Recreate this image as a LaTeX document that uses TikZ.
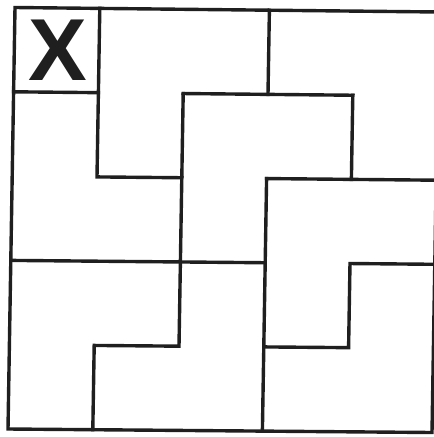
\documentclass[tikz,border=0pt]{standalone}
\usepackage{fontspec}
\setmainfont{Liberation Sans}
\usetikzlibrary{calc}
\begin{document}
\begin{tikzpicture}[x=1pt,y=-1pt,
  wall/.style={line width=3.4pt, line cap=rect, line join=miter, draw=black!88}]
\useasboundingbox (0,0) rectangle (434,437);
\coordinate (TL) at (15,7.5);
\coordinate (TR) at (439,12);
\coordinate (BL) at (8,429);
\coordinate (BR) at (432,432.5);
\foreach \i in {0,...,5}{\foreach \j in {0,...,5}{
  \pgfmathsetmacro\u{\i/5}\pgfmathsetmacro\v{\j/5}
  \coordinate (g\i\j) at ($($(TL)!\u!(TR)$)!\v!($(BL)!\u!(BR)$)$);
}}
\draw[wall] (g00) -- (g50) -- (g55) -- (g05) -- cycle;
\draw[wall] (g01) -- (g11);
\draw[wall] (g10) -- (g12) -- (g22);
\draw[wall] (g30) -- (g31);
\draw[wall] (g21) -- (g41);
\draw[wall] (g21) -- (g24) -- (g14) -- (g15);
\draw[wall] (g41) -- (g42);
\draw[wall] (g32) -- (g52);
\draw[wall] (g32) -- (g35);
\draw[wall] (g03) -- (g33);
\draw[wall] (g53) -- (g43) -- (g44) -- (g34);
\node[font=\bfseries\fontsize{88}{88}\selectfont, inner sep=0pt, text=black!88] (x) at (58,50) {X};
\end{tikzpicture}
\end{document}
